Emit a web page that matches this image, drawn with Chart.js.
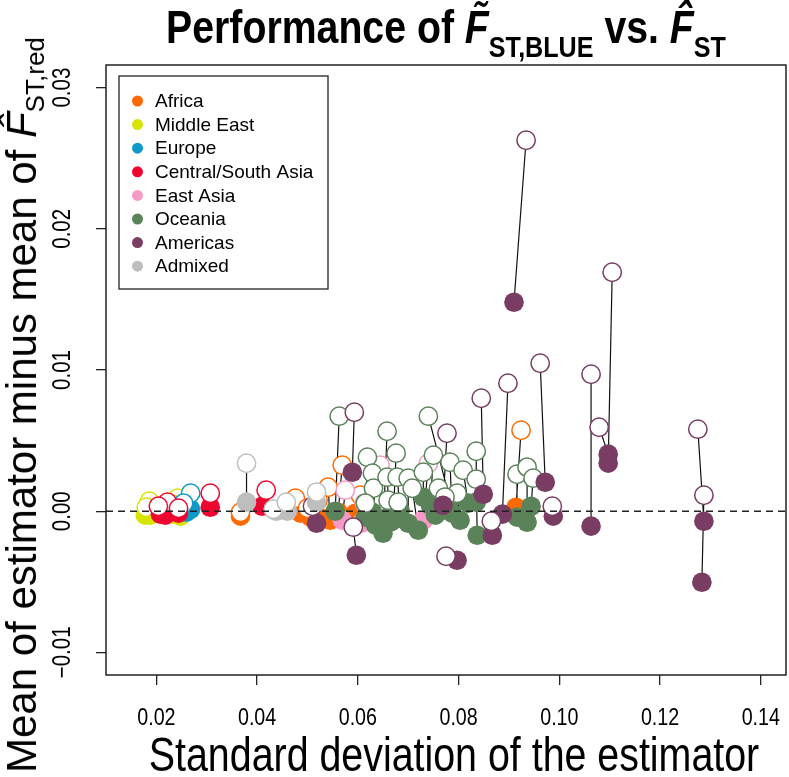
<!DOCTYPE html>
<html>
<head>
<meta charset="utf-8">
<script src="https://cdn.jsdelivr.net/npm/chart.js@4.4.1/dist/chart.umd.min.js"></script>
<style>
  html, body { margin: 0; padding: 0; background: #fff; }
  #wrap { position: relative; width: 789px; height: 777px; overflow: hidden; }
  #chart { position: absolute; left: 0; top: 0; }
  .title {
    position: absolute; left: 446px; top: 3px; transform: translateX(-50%) scaleX(0.835);
    font-family: "Liberation Sans", Arial, sans-serif;
    font-weight: bold; font-size: 47px; line-height: 47px; white-space: nowrap; color: #000;
  }
  .title sub { font-size: 0.64em; vertical-align: -0.48em; line-height: 0; }
  .ytitle {
    position: absolute; left: 22px; top: 405px; transform: translate(-50%, -50%) rotate(-90deg);
    font-family: "Liberation Sans", Arial, sans-serif; font-size: 42px; line-height: 42px;
    white-space: nowrap; color: #000;
  }
  .ytitle sub { font-size: 0.62em; vertical-align: -0.3em; line-height: 0; }
</style>
</head>
<body>
<div id="wrap">
  <canvas id="chart" width="789" height="777"></canvas>
  <div class="title">Performance of <i>F&#771;</i><sub>ST,BLUE</sub> vs. <i>F&#770;</i><sub>ST</sub></div>
  <div class="ytitle">Mean of estimator minus mean of <i>F&#770;</i><sub>ST,red</sub></div>
</div>
<script>
// Regions, in legend order
const regions = ["Africa", "Middle East", "Europe", "Central/South Asia", "East Asia", "Oceania", "Americas", "Admixed"];
const regionColors = ["#FF6A00", "#D7E400", "#0E9AC8", "#EE0530", "#F59AC6", "#5B835A", "#793D64", "#BEBEBE"];

const xTicks = [0.02, 0.04, 0.06, 0.08, 0.10, 0.12, 0.14];
const yTicks = [-0.01, 0.00, 0.01, 0.02, 0.03];

// one entry per population: region index, then (sd, bias) of F~ST,BLUE (filled) and of F^ST (open)
const popRegion = [
  1, 1, 1, 1,
  2, 2,
  3, 3, 3, 3, 3,
  7, 7, 7, 7,
  0, 0, 0, 0, 0, 0, 0, 0,
  4, 4, 4, 4,
  5, 5, 5, 5, 5, 5, 5, 5, 5, 5, 5, 5, 5, 5, 5, 5, 5, 5, 5, 5, 5, 5, 5, 5, 5, 5,
  6, 6, 6, 6, 6, 6, 6, 6, 6, 6, 6, 6, 6, 6, 6, 6
];
const sdBlue = [
  0.0178, 0.0188, 0.0248, 0.0234,
  0.0268, 0.0260,
  0.0218, 0.0244, 0.0307, 0.0410, 0.0208,
  0.0379, 0.0438, 0.0460, 0.0518,
  0.0367, 0.0486, 0.0506, 0.0545, 0.0561, 0.0595, 0.0914, 0.0529,
  0.0569, 0.0625, 0.0730, 0.0607,
  0.0555, 0.0615, 0.0650, 0.0670, 0.0635, 0.0629, 0.0621, 0.0664, 0.0684, 0.0700, 0.0656, 0.0676, 0.0783,
  0.0744, 0.0787, 0.0730, 0.0819, 0.0754, 0.0803, 0.0835, 0.0837, 0.0916, 0.0936, 0.0944, 0.0720, 0.0767,
  0.0589, 0.0597, 0.0769, 0.0797, 0.0849, 0.0887, 0.0867, 0.0910, 0.0972, 0.0988, 0.1063, 0.1097, 0.1097,
  0.1287, 0.1283, 0.0518
];
const biasBlue = [
  -0.00028, -0.00028, -0.00035, -0.00021,
  0.00014, -0.00007,
  -0.00028, -0.00014, 0.00028, 0.00035, -0.00021,
  0.00064, 0.00000, 0.00000, 0.00064,
  -0.00035, -0.00014, -0.00042, -0.00064, -0.00007, -0.00014, 0.00028, -0.00050,
  -0.00064, -0.00064, -0.00064, -0.00085,
  0.00000, -0.00042, -0.00156, -0.00064, -0.00099, -0.00007, -0.00028, -0.00078, 0.00007, -0.00085, -0.00050, -0.00007, 0.00078,
  0.00042, -0.00014, 0.00099, 0.00057, -0.00028, -0.00064, 0.00064, -0.00170, -0.00042, -0.00078, 0.00035, -0.00135, 0.00007,
  0.00276, -0.00312, 0.00042, -0.00347, 0.00120, -0.00021, -0.00170, 0.01480, 0.00205, -0.00035, -0.00106, 0.00404, 0.00340,
  -0.00071, -0.00503, -0.00085
];
const sdHat = [
  0.0186, 0.0180, 0.0242, 0.0232,
  0.0268, 0.0254,
  0.0222, 0.0244, 0.0307, 0.0418, 0.0204,
  0.0379, 0.0432, 0.0458, 0.0518,
  0.0367, 0.0476, 0.0500, 0.0541, 0.0569, 0.0605, 0.0924, 0.0521,
  0.0575, 0.0644, 0.0740, 0.0613,
  0.0563, 0.0619, 0.0658, 0.0676, 0.0629, 0.0631, 0.0615, 0.0658, 0.0678, 0.0700, 0.0660, 0.0680, 0.0740,
  0.0750, 0.0783, 0.0730, 0.0809, 0.0760, 0.0797, 0.0835, 0.0835, 0.0916, 0.0936, 0.0948, 0.0708, 0.0773,
  0.0593, 0.0591, 0.0777, 0.0775, 0.0845, 0.0898, 0.0865, 0.0934, 0.0962, 0.0986, 0.1063, 0.1079, 0.1105,
  0.1275, 0.1287, 0.0510
];
const biasHat = [
  0.00071, 0.00028, 0.00092, 0.00050,
  0.00127, 0.00057,
  0.00064, 0.00021, 0.00127, 0.00149, 0.00035,
  0.00340, 0.00014, 0.00064, 0.00135,
  -0.00007, 0.00092, 0.00021, 0.00170, 0.00326, 0.00113, 0.00573, 0.00078,
  0.00149, 0.00326, 0.00338, 0.00057,
  0.00673, 0.00382, 0.00566, 0.00411, 0.00269, 0.00163, 0.00057, 0.00241, 0.00241, 0.00234, 0.00078, 0.00064, 0.00673,
  0.00396, 0.00347, 0.00276, 0.00290, 0.00163, 0.00127, 0.00425, 0.00227, 0.00262, 0.00312, 0.00234, 0.00163, 0.00100,
  0.00701, -0.00113, 0.00552, -0.00319, 0.00800, 0.00906, -0.00071, 0.02627, 0.01048, 0.00035, 0.00970, 0.00595, 0.01692,
  0.00581, 0.00113, 0.00035
];

const sans = '"Liberation Sans", Arial, sans-serif';

// squeezed text, to get the narrow look of the original labels
function narrowText(ctx, text, x, y, size, rot) {
  ctx.save();
  ctx.translate(x, y);
  if (rot) ctx.rotate(rot);
  ctx.scale(0.82, 1);
  ctx.font = size + "px " + sans;
  ctx.textAlign = "center";
  ctx.textBaseline = "middle";
  ctx.fillText(text, 0, 0);
  ctx.restore();
}

// segments joining the two estimates of each population (null breaks the line)
const pairData = [];
popRegion.forEach((r, i) => {
  pairData.push({ x: sdBlue[i], y: biasBlue[i] }, { x: sdHat[i], y: biasHat[i] }, { x: sdHat[i], y: null });
});

const datasets = [{
  label: "pairs", data: pairData, showLine: true, spanGaps: false,
  borderColor: "#111", borderWidth: 1.2, pointRadius: 0
}];
regions.forEach((name, r) => {
  const idx = popRegion.map((g, i) => g === r ? i : -1).filter(i => i >= 0);
  datasets.push({
    label: name + " (BLUE)",
    data: idx.map(i => ({ x: sdBlue[i], y: biasBlue[i] })),
    pointRadius: 9.8, backgroundColor: regionColors[r], borderColor: regionColors[r], borderWidth: 0
  });
  datasets.push({
    label: name + " (hat)",
    data: idx.map(i => ({ x: sdHat[i], y: biasHat[i] })),
    pointRadius: 9.2, backgroundColor: "#fff", borderColor: regionColors[r], borderWidth: 1.5
  });
});
// later datasets on top
datasets.forEach((d, k) => { d.order = datasets.length - k; });

const decorations = {
  id: "decorations",
  afterDatasetsDraw(chart) {
    const { ctx, chartArea: a, scales: { y } } = chart;
    const y0 = y.getPixelForValue(0);
    ctx.save();
    ctx.setLineDash([7, 5]);
    ctx.lineWidth = 1.5;
    ctx.strokeStyle = "#222";
    ctx.beginPath();
    ctx.moveTo(a.left, y0);
    ctx.lineTo(a.right, y0);
    ctx.stroke();
    ctx.restore();
  },
  afterDraw(chart) {
    const { ctx, chartArea: a, scales: { x, y } } = chart;
    ctx.save();
    // box round the plot
    ctx.lineWidth = 1.5;
    ctx.strokeStyle = "#222";
    ctx.strokeRect(a.left, a.top, a.right - a.left, a.bottom - a.top);

    // tick labels and x title
    ctx.fillStyle = "#000";
    yTicks.forEach(v => {
      const label = v < 0 ? "\u2212" + Math.abs(v).toFixed(2) : v.toFixed(2);
      narrowText(ctx, label, 63, y.getPixelForValue(v), 25, -Math.PI / 2);
    });
    xTicks.forEach(v => narrowText(ctx, v.toFixed(2), x.getPixelForValue(v), 718, 24, 0));
    narrowText(ctx, "Standard deviation of the estimator", (a.left + a.right) / 2 + 8, 758, 48, 0);

    // legend
    const lx = a.left + 13, ly = a.top + 11, lw = 209, lh = 213;
    ctx.fillStyle = "#fff";
    ctx.fillRect(lx, ly, lw, lh);
    ctx.lineWidth = 1.3;
    ctx.strokeStyle = "#222";
    ctx.strokeRect(lx, ly, lw, lh);
    ctx.font = "19px " + sans;
    ctx.textAlign = "left";
    ctx.textBaseline = "middle";
    regions.forEach((name, r) => {
      const ry = ly + 25 + r * 23.6;
      ctx.beginPath();
      ctx.arc(lx + 18.5, ry, 5.5, 0, Math.PI * 2);
      ctx.fillStyle = regionColors[r];
      ctx.fill();
      ctx.fillStyle = "#000";
      ctx.fillText(name, lx + 36, ry + 1);
    });
    ctx.restore();
  }
};

const ctx = document.getElementById("chart").getContext("2d");
new Chart(ctx, {
  type: "scatter",
  data: { datasets },
  options: {
    responsive: false,
    animation: false,
    events: [],
    layout: { autoPadding: false, padding: { left: 0, right: 3, top: 65, bottom: 0 } },
    plugins: { legend: { display: false }, tooltip: { enabled: false } },
    scales: {
      x: {
        type: "linear", min: 0.01, max: 0.145,
        afterBuildTicks: s => { s.ticks = xTicks.map(v => ({ value: v })); },
        afterFit: s => { s.height = 102; },
        border: { display: false },
        grid: { drawOnChartArea: false, color: "#222", tickLength: 10, lineWidth: 1.3 },
        ticks: { display: false }
      },
      y: {
        type: "linear", min: -0.0116, max: 0.0316,
        afterBuildTicks: s => { s.ticks = yTicks.map(v => ({ value: v })); },
        afterFit: s => { s.width = 106; },
        border: { display: false },
        grid: { drawOnChartArea: false, color: "#222", tickLength: 10, lineWidth: 1.3 },
        ticks: { display: false }
      }
    }
  },
  plugins: [decorations]
});
</script>
</body>
</html>
